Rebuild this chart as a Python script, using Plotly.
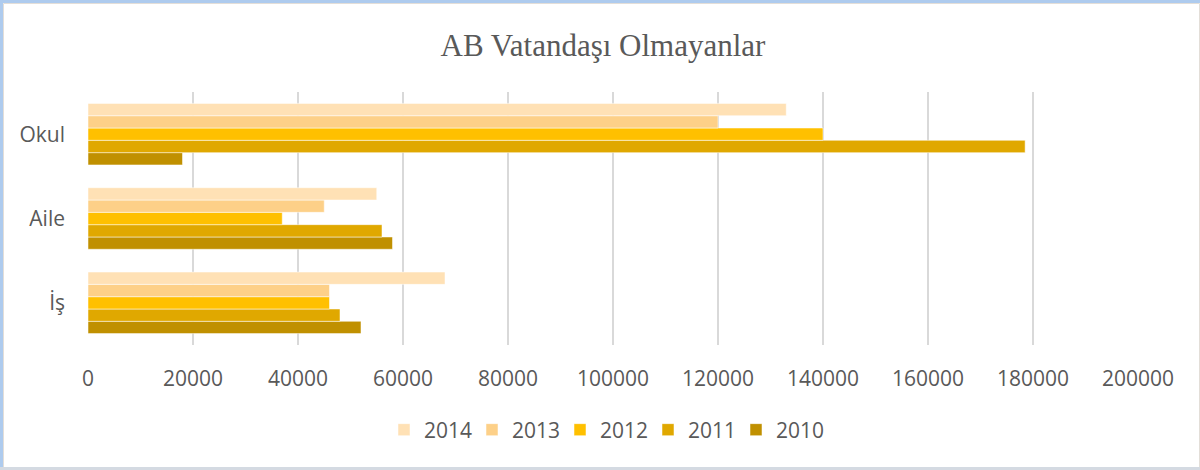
import plotly.graph_objects as go

categories = ["İş", "Aile", "Okul"]
years = ["2010", "2011", "2012", "2013", "2014"]
values = {
    "2010": [52000, 58000, 18000],
    "2011": [48000, 56000, 178500],
    "2012": [46000, 37000, 140000],
    "2013": [46000, 45000, 120000],
    "2014": [68000, 55000, 133000],
}
colors = {
    "2010": "#C09000",
    "2011": "#E0A800",
    "2012": "#FFC000",
    "2013": "#FDD088",
    "2014": "#FFE1B5",
}
x_ticks = list(range(0, 200001, 20000))

fig = go.Figure()
for y in years:
    fig.add_trace(go.Bar(
        y=categories, x=values[y], name=y, orientation="h",
        marker=dict(color=colors[y], line=dict(color="rgba(255,255,255,0.5)", width=1)),
    ))

L, R, T, B = 88, 62, 92, 125
W, H = 1200, 470
pw, ph = W - L - R, H - T - B

def px(xp):
    return (xp - L) / pw

def py(yp):
    return (H - B - yp) / ph

fig.update_layout(
    width=W, height=H,
    margin=dict(l=L, r=R, t=T, b=B),
    paper_bgcolor="white", plot_bgcolor="white",
    barmode="group", bargap=0.27, bargroupgap=0,
    title=dict(text="AB Vatandaşı Olmayanlar", x=px(603), xref="paper", xanchor="center",
               y=1 - 45 / H, yanchor="middle",
               font=dict(family="Liberation Serif", size=31, color="#595959")),
    xaxis=dict(range=[0, 200000], tickvals=x_ticks, ticktext=[str(v) for v in x_ticks],
               showgrid=True, gridcolor="#D9D9D9", gridwidth=1.5, zeroline=False,
               showline=False, ticks="", ticklabelstandoff=19,
               tickfont=dict(family="Open Sans", size=21, color="#595959")),
    yaxis=dict(categoryorder="array", categoryarray=categories, showgrid=False,
               zeroline=False, showline=False, ticks="", ticklabelstandoff=22,
               tickfont=dict(family="Open Sans", size=21, color="#595959")),
    legend=dict(orientation="h", x=px(604), xanchor="center", y=py(430), yanchor="middle",
                traceorder="reversed", font=dict(family="Open Sans", size=21, color="#595959"),
                entrywidth=43, itemclick=False),
    showlegend=True,
)

shapes = [
    dict(type="rect", xref="paper", yref="paper", x0=px(3.5), x1=px(1199.5), y0=py(3.5), y1=py(467.5),
         line=dict(color="#E3DED8", width=1), fillcolor="rgba(0,0,0,0)", layer="below"),
    dict(type="rect", xref="paper", yref="paper", x0=px(0), x1=px(1200), y0=py(0), y1=py(3),
         line=dict(width=0), fillcolor="#AECBEE"),
    dict(type="rect", xref="paper", yref="paper", x0=px(0), x1=px(3), y0=py(0), y1=py(470),
         line=dict(width=0), fillcolor="#AECBEE"),
    dict(type="rect", xref="paper", yref="paper", x0=px(0), x1=px(1200), y0=py(467), y1=py(470),
         line=dict(width=0), fillcolor="#D4DAE2"),
]
fig.update_layout(shapes=shapes)

fig.write_html("out.html", config={"displayModeBar": False},
               post_script="document.body.style.margin='0';document.body.style.overflow='hidden';")
